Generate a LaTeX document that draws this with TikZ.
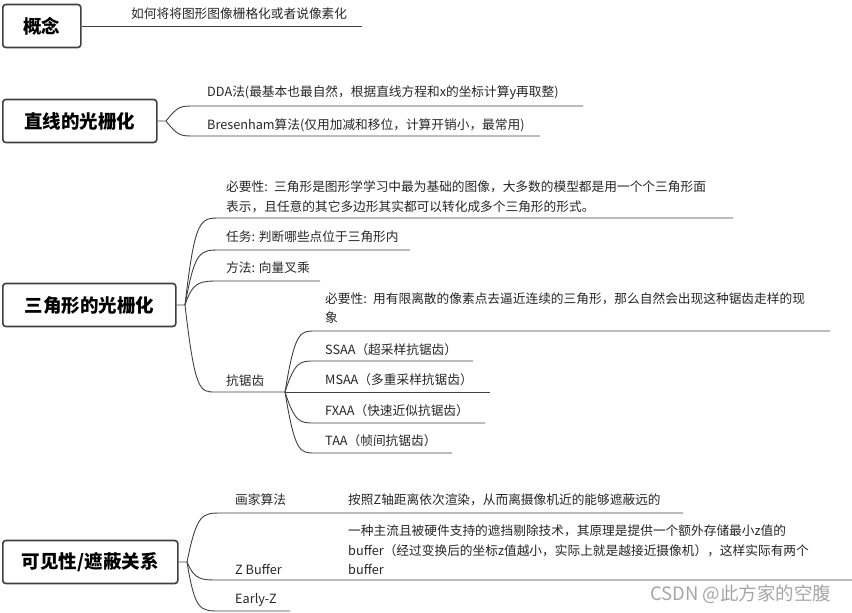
\documentclass[tikz,border=0pt]{standalone}
\usepackage{fontspec}
\setmainfont{Noto Sans CJK SC}
\begin{document}
\begin{tikzpicture}[x=1pt,y=-1pt,
  root/.style={draw=black!75,line width=1.6pt,rounded corners=3pt,fill=white,font=\fontsize{18.5}{22}\selectfont\bfseries,inner sep=0pt,minimum height=43pt,anchor=west},
  lbl/.style={anchor=west,inner sep=0pt,font=\fontsize{12.7}{19.5}\selectfont,text=black!85},
  ln/.style={draw=black!75,line width=0.9pt},
  wm/.style={anchor=west,inner sep=0pt,font=\fontsize{18.5}{20}\selectfont,text=black!35}]
\useasboundingbox (0,0) rectangle (852,613);
% 概念
\node[root,minimum width=78pt] (r1) at (2,26) {概念};
\node[lbl] (t1) at (131,14) {如何将将图形图像栅格化或者说像素化};
\coordinate (e1) at (362,26);
\draw[ln] (r1.east) -- (e1);
% 直线
\node[root,minimum width=154pt] (r2) at (2,121) {直线的光栅化};
\coordinate (j2) at (166,121);
\node[lbl] (a1) at (207,93) {DDA法(最基本也最自然，根据直线方程和x的坐标计算y再取整)};
\node[lbl] (a2) at (207,125) {Bresenham算法(仅用加减和移位，计算开销小，最常用)};
\coordinate (a1e) at (583,106); \coordinate (a2e) at (540,136);
\draw[ln] (r2.east) -- (j2) .. controls (178,106) and (180,106) .. (195,106) -- (a1e);
\draw[ln] (j2) .. controls (178,136) and (180,136) .. (195,136) -- (a2e);
% 三角形
\node[root,minimum width=173pt] (r3) at (2,305) {三角形的光栅化};
\coordinate (j3) at (185,305);
\node[lbl,align=left,text width=520pt] (b1) at (226,197) {必要性: 三角形是图形学学习中最为基础的图像，大多数的模型都是用一个个三角形面\\表示，且任意的其它多边形其实都可以转化成多个三角形的形式。};
\node[lbl] (b2) at (226,237) {任务: 判断哪些点位于三角形内};
\node[lbl] (b3) at (226,268) {方法: 向量叉乘};
\node[lbl] (b4) at (226,381) {抗锯齿};
\coordinate (b1e) at (733,218); \coordinate (b2e) at (410,250);
\coordinate (b3e) at (320,281); \coordinate (j4) at (285,392);
\draw[ln] (r3.east) -- (j3) .. controls (195,218) and (200,218) .. (220,218) -- (b1e);
\draw[ln] (j3) .. controls (195,250) and (200,250) .. (220,250) -- (b2e);
\draw[ln] (j3) .. controls (193,281) and (200,281) .. (220,281) -- (b3e);
\draw[ln] (j3) .. controls (195,392) and (200,392) .. (215,392) -- (j4);
\node[lbl,align=left,text width=520pt] (c1) at (325,308) {必要性: 用有限离散的像素点去逼近连续的三角形，那么自然会出现这种锯齿走样的现\\象};
\node[lbl] (c2) at (325,350) {SSAA（超采样抗锯齿）};
\node[lbl] (c3) at (325,380) {MSAA（多重采样抗锯齿）};
\node[lbl] (c4) at (325,411) {FXAA（快速近似抗锯齿）};
\node[lbl] (c5) at (325,441) {TAA（帧间抗锯齿）};
\coordinate (c1e) at (830,331); \coordinate (c2e) at (473,361);
\coordinate (c3e) at (490,392); \coordinate (c4e) at (485,423); \coordinate (c5e) at (452,453);
\draw[ln] (j4) .. controls (295,331) and (300,331) .. (315,331) -- (c1e);
\draw[ln] (j4) .. controls (295,361) and (300,361) .. (315,361) -- (c2e);
\draw[ln] (j4) -- (c3e);
\draw[ln] (j4) .. controls (295,423) and (300,423) .. (315,423) -- (c4e);
\draw[ln] (j4) .. controls (295,453) and (300,453) .. (315,453) -- (c5e);
% 可见性
\node[root,minimum width=175pt] (r4) at (2,562) {可见性/遮蔽关系};
\coordinate (j5) at (187,562);
\node[lbl] (d1) at (235,500) {画家算法};
\node[lbl] (d1t) at (348,500) {按照Z轴距离依次渲染，从而离摄像机近的能够遮蔽远的};
\node[lbl] (d2) at (235,569) {Z Buffer};
\node[lbl,align=left,text width=490pt] (d2t) at (348,550) {一种主流且被硬件支持的遮挡剔除技术，其原理是提供一个额外存储最小z值的\\buffer（经过变换后的坐标z值越小，实际上就是越接近摄像机），这样实际有两个\\buffer};
\node[lbl] (d3) at (235,600) {Early-Z};
\coordinate (d1e) at (683,513); \coordinate (d2e) at (852,580); \coordinate (d3e) at (290,611);
\draw[ln] (r4.east) -- (j5) .. controls (197,513) and (202,513) .. (222,513) -- (d1e);
\draw[ln] (j5) .. controls (195,580) and (200,580) .. (220,580) -- (d2e);
\draw[ln] (j5) .. controls (195,611) and (200,611) .. (220,611) -- (d3e);
\node[wm] (w) at (650,594) {CSDN @此方家的空腹};
\end{tikzpicture}
\end{document}
